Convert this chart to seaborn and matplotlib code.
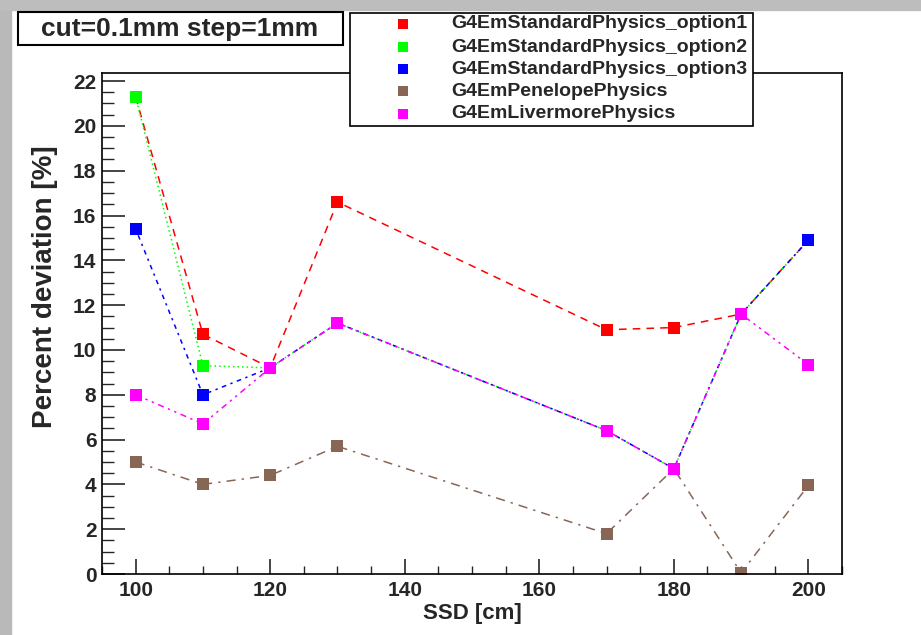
import matplotlib
matplotlib.use("Agg")
import matplotlib.pyplot as plt
import seaborn as sns
import pandas as pd
from matplotlib.patches import Rectangle
from matplotlib.lines import Line2D
from matplotlib.ticker import MultipleLocator

ssd = [100, 110, 120, 130, 170, 180, 190, 200]
option1 = [21.3, 10.7, 9.2, 16.6, 10.9, 11.0, 11.6, 14.9]
option2 = [21.3, 9.3, 9.2, 11.2, 6.4, 4.7, 11.6, 14.9]
option3 = [15.4, 8.0, 9.2, 11.2, 6.4, 4.7, 11.6, 14.9]
penelope = [5.0, 4.0, 4.4, 5.7, 1.8, 4.7, 0.05, 3.95]
livermore = [8.0, 6.7, 9.2, 11.2, 6.4, 4.7, 11.6, 9.35]

names = ["G4EmStandardPhysics_option1", "G4EmStandardPhysics_option2",
         "G4EmStandardPhysics_option3", "G4EmPenelopePhysics", "G4EmLivermorePhysics"]
series = [option1, option2, option3, penelope, livermore]
colors = ["#ff0000", "#00ff00", "#0000ff", "#876656", "#ff00ff"]
styles = [(0, (5, 4)), (0, (1, 2)), (0, (1.5, 3, 3, 3)), (0, (6, 4, 1.5, 4)), (0, (4, 3, 1.5, 3, 1.5, 3))]

sns.set_style("white")
plt.rcParams["font.family"] = ["Liberation Sans", "DejaVu Sans"]
plt.rcParams["font.weight"] = "bold"

W, H = 921, 635
fig = plt.figure(figsize=(W / 100, H / 100), dpi=100)
fig.patch.set_facecolor("white")
# gray screenshot border strips
fig.add_artist(Rectangle((0, 0), 11 / W, 1, transform=fig.transFigure, color="#b9b9b9", zorder=0))
fig.add_artist(Rectangle((0, 1 - 10 / H), 1, 10 / H, transform=fig.transFigure, color="#bdbdbd", zorder=0))

ax = fig.add_axes([102 / W, (H - 574) / H, 740 / W, 501 / H])

for name, vals, c, ls in zip(names, series, colors, styles):
    df = pd.DataFrame({"SSD": ssd, "dev": vals})
    sns.lineplot(data=df, x="SSD", y="dev", ax=ax, color=c, linestyle=ls, linewidth=1.1,
                 marker="s", markersize=8, markeredgewidth=0, sort=False)

ax.set_xlim(95, 205)
ax.set_ylim(0, 22.36)
ax.xaxis.set_major_locator(MultipleLocator(20))
ax.xaxis.set_minor_locator(MultipleLocator(5))
ax.yaxis.set_major_locator(MultipleLocator(2))
ax.yaxis.set_minor_locator(MultipleLocator(0.5))
ax.tick_params(axis="y", which="major", direction="in", length=16.5, width=1.2, pad=4, labelsize=15)
ax.tick_params(axis="y", which="minor", direction="in", length=8.6, width=1.0)
ax.tick_params(axis="x", which="major", direction="in", length=10.8, width=1.2, pad=5, labelsize=15)
ax.tick_params(axis="x", which="minor", direction="in", length=5.8, width=1.0)
ax.tick_params(left=True, bottom=True, top=False, right=False, which="both")
for lab in ax.get_xticklabels() + ax.get_yticklabels():
    lab.set_fontweight("bold")
for sp in ax.spines.values():
    sp.set_color("black")
    sp.set_linewidth(1.2)

ax.set_xlabel("SSD [cm]", fontsize=16, fontweight="bold", labelpad=2)
ax.set_ylabel("Percent deviation [%]", fontsize=20, fontweight="bold")
ax.yaxis.set_label_coords((58 - 102) / 740, (574 - 287) / 501)

# title box
def px(x, y):
    return x / W, 1 - y / H

x0, y0 = px(18, 45)
fig.add_artist(Rectangle((x0, y0), (343 - 18) / W, (45 - 12) / H, transform=fig.transFigure,
                         facecolor="white", edgecolor="black", linewidth=1.5, zorder=5))
tx, ty = px(180, 29)
fig.text(tx, ty, "cut=0.1mm step=1mm", ha="center", va="center", fontsize=19,
         fontweight="bold", zorder=6)

# legend box
lx0, ly0 = px(350, 126)
fig.add_artist(Rectangle((lx0, ly0), (753 - 350) / W, (126 - 13) / H, transform=fig.transFigure,
                         facecolor="white", edgecolor="black", linewidth=1.2, zorder=5))
rows = [24, 47, 69, 91, 114]
for name, c, ry in zip(names, colors, rows):
    mx, my = px(403, ry)
    fig.add_artist(Line2D([mx], [my], transform=fig.transFigure, marker="s", markersize=7.5,
                          markeredgewidth=0, color=c, linestyle="none", zorder=6))
    tx, ty = px(451, ry)
    fig.text(tx, ty, name, ha="left", va="center", fontsize=14, fontweight="bold", zorder=6)

fig.savefig("out.png", dpi=100)
